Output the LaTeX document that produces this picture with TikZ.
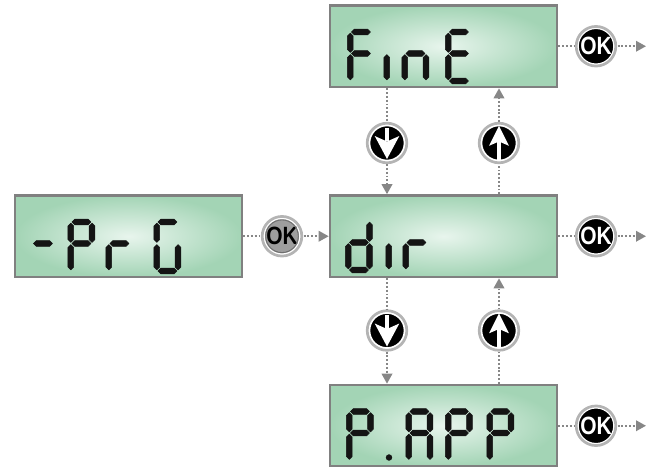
\documentclass[tikz,border=0pt]{standalone}
\usepackage{fontspec}
\setmainfont{Liberation Sans}
\usetikzlibrary{arrows.meta}
\definecolor{lcdout}{RGB}{163,212,181}
\definecolor{lcdin}{RGB}{232,245,237}
\definecolor{framec}{RGB}{128,128,128}
\definecolor{connc}{RGB}{135,135,135}
\definecolor{ringc}{RGB}{180,180,180}
\definecolor{okgrey}{RGB}{158,158,158}
\definecolor{okgreyring}{RGB}{110,110,110}
\definecolor{segk}{RGB}{20,20,20}
\newcommand\sgap{1.1}
\newcommand\shw{2.9}
\newcommand\segH[3]{\fill[segc] (#1+\sgap,#3) -- (#1+\sgap+\shw,#3-\shw) -- (#2-\sgap-\shw,#3-\shw) -- (#2-\sgap,#3) -- (#2-\sgap-\shw,#3+\shw) -- (#1+\sgap+\shw,#3+\shw) -- cycle;}
\newcommand\segV[3]{\fill[segc] (#1,#2+\sgap) -- (#1+\shw,#2+\sgap+\shw) -- (#1+\shw,#3-\sgap-\shw) -- (#1,#3-\sgap) -- (#1-\shw,#3-\sgap-\shw) -- (#1-\shw,#2+\sgap+\shw) -- cycle;}
\newcommand\SegA{\segH{2.8}{24}{0}}
\newcommand\SegB{\segV{24}{0}{21.5}}
\newcommand\SegC{\segV{24}{21.5}{49}}
\newcommand\SegD{\segH{2.8}{24}{49}}
\newcommand\SegE{\segV{2.8}{21.5}{49}}
\newcommand\SegF{\segV{2.8}{0}{21.5}}
\newcommand\SegG{\segH{2.8}{24}{21.5}}
\newcommand\Digit[3]{\begin{scope}[shift={(#1,#2)}]#3\end{scope}}
\newcommand\okfont{\fontsize{25}{25}\selectfont\bfseries}
\newcommand\OKtxt{\scalebox{0.84}[1]{OK}}
\begin{document}
\begin{tikzpicture}[x=1pt,y=-1pt,
  lcd/.style={rectangle, draw=framec, line width=2.6pt, shade, inner color=lcdin, outer color=lcdout, minimum width=227pt, minimum height=81.5pt, text opacity=0},
  btn/.style={circle, fill=black, draw=white, line width=1.6pt, minimum size=35pt, inner sep=0pt, outer sep=3.6pt, text=white, font=\okfont},
  btngrey/.style={btn, fill=okgrey, text=black},
  ring/.style={draw=ringc, line width=2.7pt},
  conn/.style={draw=connc, line width=1.9pt, dash pattern=on 1.9pt off 1.9pt},
  arr/.style={-{Triangle[length=10pt,width=10.5pt]}},
  segc/.style={fill=segk, draw=segk, line width=0.5pt, line join=round},
  icon/.style={fill=white}
]
\useasboundingbox (0,0) rectangle (656,466);
\clip (0,0) rectangle (656,466);
% display boxes
\node[lcd] (L) at (128.5,236.25) {-PrG};
\node[lcd] (T) at (443.5,46.25) {FinE};
\node[lcd] (M) at (443.5,236.25) {dir};
\node[lcd] (B) at (443.5,425.75) {P.APP};
% seven-segment glyphs
\Digit{29.5}{222}{\SegG}
\Digit{68}{222}{\SegA\SegB\SegF\SegG\SegE}
\Digit{106}{222}{\SegE\SegG}
\Digit{154}{222}{\SegA\SegF\SegE\SegD\SegC}
\Digit{347.5}{32}{\SegA\SegF\SegE\SegG}
\Digit{384}{32}{\SegE}
\Digit{402}{32}{\SegG\SegE\SegC}
\Digit{445.5}{32}{\SegA\SegF\SegG\SegE\SegD}
\Digit{345.5}{221}{\SegB\SegC\SegD\SegE\SegG}
\Digit{386}{221}{\SegE}
\Digit{403}{221}{\SegE\SegG}
\Digit{346.5}{411.5}{\SegA\SegB\SegF\SegG\SegE}
\fill[segc] (389,457.5) circle (2.9);
\Digit{406}{411.5}{\SegA\SegB\SegC\SegE\SegF\SegG}
\Digit{445.5}{411.5}{\SegA\SegB\SegF\SegG\SegE}
\Digit{487}{411.5}{\SegA\SegB\SegF\SegG\SegE}
% buttons
\node[btngrey] (okL) at (282,236.25) {\OKtxt};
\node[btn] (okT) at (596,46.25) {\OKtxt};
\node[btn] (okM) at (596,236.25) {\OKtxt};
\node[btn] (okB) at (596,425.75) {\OKtxt};
\node[btn] (dT) at (387,143) {};
\node[btn] (uT) at (499,143) {};
\node[btn] (dB) at (387,330.5) {};
\node[btn] (uB) at (499,330.5) {};
\foreach \n in {okL,okT,okM,okB,dT,uT,dB,uB} \draw[ring] (\n.center) circle (19.8);
\draw[okgreyring, line width=0.9pt] (okL.center) circle (16.3);
% arrow icons
\foreach \n in {dT,dB}{
  \begin{scope}[shift={(\n.center)}]
  \fill[icon] (-2,-15.5) rectangle (2,-2);
  \fill[icon] (-12.3,-7) -- (0,-1.5) -- (12.3,-7) -- (0,16) -- cycle;
  \end{scope}}
\foreach \n in {uT,uB}{
  \begin{scope}[shift={(\n.center)}]
  \fill[icon] (-1.7,-2) rectangle (1.7,17.5);
  \fill[icon] (-10,2.8) -- (0,-1.5) -- (10,2.8) -- (0,-17.2) -- cycle;
  \end{scope}}
% free arrow ends
\coordinate (eT) at (646,46.25);
\coordinate (eM) at (646,236.25);
\coordinate (eB) at (646,425.75);
% connectors
\draw[conn] (L.east) -- (okL);
\draw[conn,arr] (okL) -- (M.west);
\draw[conn] (T.east) -- (okT);
\draw[conn,arr] (okT) -- (eT);
\draw[conn] (M.east) -- (okM);
\draw[conn,arr] (okM) -- (eM);
\draw[conn] (B.east) -- (okB);
\draw[conn,arr] (okB) -- (eB);
\draw[conn] (T.south -| dT) -- (dT);
\draw[conn,arr] (dT) -- (M.north -| dT);
\draw[conn] (M.north -| uT) -- (uT);
\draw[conn,arr] (uT) -- (T.south -| uT);
\draw[conn] (M.south -| dB) -- (dB);
\draw[conn,arr] (dB) -- (B.north -| dB);
\draw[conn] (B.north -| uB) -- (uB);
\draw[conn,arr] (uB) -- (M.south -| uB);
\end{tikzpicture}
\end{document}
